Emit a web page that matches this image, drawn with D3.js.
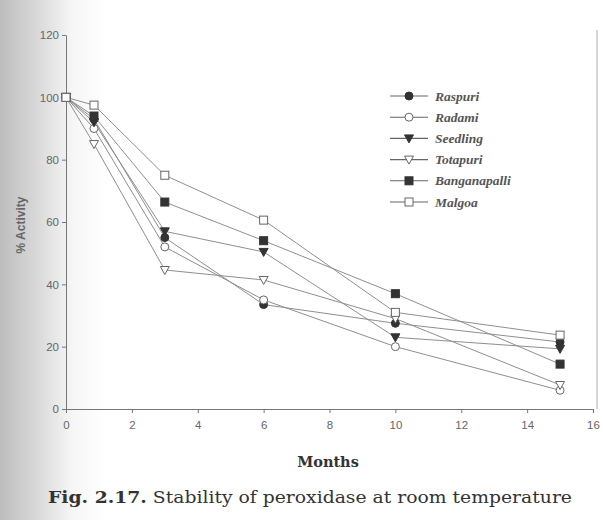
<!DOCTYPE html>
<html><head><meta charset="utf-8">
<script src="https://cdn.jsdelivr.net/npm/d3@7"></script>
<style>body{margin:0;background:#fff}</style>
</head><body>
<svg id="c" width="603" height="520"></svg>
<script>
const months = [0, 0.85, 3, 6, 10, 15];
const seriesNames = ["Raspuri","Radami","Seedling","Totapuri","Banganapalli","Malgoa"];
const raspuri      = [100, 93, 55, 33.5, 27.5, 21.5];
const radami       = [100, 90, 52, 35, 20, 6];
const seedling     = [100, 92, 57, 50.4, 23, 19.3];
const totapuri     = [100, 85, 44.6, 41.4, 29, 7.7];
const banganapalli = [100, 94, 66.4, 54, 37, 14.4];
const malgoa       = [100, 97.5, 75, 60.6, 31, 23.7];
const xTicks = [0,2,4,6,8,10,12,14,16];
const yTicks = [0,20,40,60,80,100,120];
const markers = ["circleF","circleO","triF","triO","sqF","sqO"];
const allVals = [raspuri, radami, seedling, totapuri, banganapalli, malgoa];

const svg = d3.select("#c");
const defs = svg.append("defs");
const g1 = defs.append("linearGradient").attr("id","lg").attr("x1","0").attr("x2","1").attr("y1","0").attr("y2","0");
g1.append("stop").attr("offset","0").attr("stop-color","#bdbdbd");
g1.append("stop").attr("offset","0.06").attr("stop-color","#d8d8d8");
g1.append("stop").attr("offset","0.12").attr("stop-color","#f6f6f6");
g1.append("stop").attr("offset","0.18").attr("stop-color","#ffffff");
svg.append("rect").attr("width",603).attr("height",520).attr("fill","url(#lg)");

const x = d3.scaleLinear().domain([0,16]).range([66,593]);
const y = d3.scaleLinear().domain([0,120]).range([409,35]);

// right border
svg.append("line").attr("x1",597).attr("x2",597).attr("y1",30).attr("y2",409).attr("stroke","#aaa").attr("stroke-width",1);

const xa = svg.append("g").attr("transform","translate(0,409)")
  .call(d3.axisBottom(x).tickValues(xTicks).tickSize(4).tickSizeOuter(0));
const ya = svg.append("g").attr("transform","translate(66,0)")
  .call(d3.axisLeft(y).tickValues(yTicks).tickSize(4).tickSizeOuter(0));
[xa,ya].forEach(a=>{
  a.select(".domain").attr("stroke","#777");
  a.selectAll(".tick line").attr("stroke","#777");
  a.selectAll("text").attr("fill","#666").attr("font-family","Liberation Sans, Arial, sans-serif").attr("font-size",11.5);
});
xa.selectAll("text").attr("dy","1.1em");

const line = d3.line().x((d,i)=>x(months[i])).y(d=>y(d));
allVals.forEach(vals=>{
  svg.append("path").datum(vals).attr("d",line).attr("fill","none").attr("stroke","#8f8f8f").attr("stroke-width",1);
});

function drawMarker(sel, type, cx, cy){
  const dark="#333", edge="#666";
  if(type==="circleF"||type==="circleO"){
    sel.append("circle").attr("cx",cx).attr("cy",cy).attr("r",4)
      .attr("fill",type==="circleF"?dark:"#fff").attr("stroke",type==="circleF"?dark:edge).attr("stroke-width",1);
  } else if(type==="sqF"||type==="sqO"){
    sel.append("rect").attr("x",cx-4).attr("y",cy-4).attr("width",8).attr("height",8)
      .attr("fill",type==="sqF"?dark:"#fff").attr("stroke",type==="sqF"?dark:edge).attr("stroke-width",1);
  } else {
    sel.append("path").attr("d",`M${cx-4.5},${cy-3.5}L${cx+4.5},${cy-3.5}L${cx},${cy+4.5}Z`)
      .attr("fill",type==="triF"?dark:"#fff").attr("stroke",type==="triF"?dark:edge).attr("stroke-width",1);
  }
}
const mg = svg.append("g");
allVals.forEach((vals,s)=>{
  vals.forEach((v,i)=>drawMarker(mg, markers[s], x(months[i]), y(v)));
});

// legend
const lg = svg.append("g");
seriesNames.forEach((n,i)=>{
  const ly = 96 + i*21.2;
  lg.append("line").attr("x1",390).attr("x2",428).attr("y1",ly).attr("y2",ly).attr("stroke","#666").attr("stroke-width",1.1);
  drawMarker(lg, markers[i], 409, ly);
  lg.append("text").attr("x",435).attr("y",ly+4.5).text(n)
    .attr("font-family","Liberation Serif, Times New Roman, serif").attr("font-style","italic").attr("font-weight","bold")
    .attr("font-size",13.5).attr("fill","#555");
});

// axis titles
svg.append("text").attr("transform","translate(25,225) rotate(-90)").attr("text-anchor","middle")
  .attr("font-family","Liberation Sans, Arial, sans-serif").attr("font-weight","bold").attr("font-size",12).attr("fill","#666")
  .text("% Activity");
svg.append("text").attr("x",328).attr("y",467).attr("text-anchor","middle")
  .attr("font-family","DejaVu Serif, serif").attr("font-weight","bold").attr("font-size",14.5).attr("fill","#333")
  .text("Months");
const cap = svg.append("text").attr("x",48).attr("y",503)
  .attr("font-family","DejaVu Serif, serif").attr("font-size",16.5).attr("fill","#333")
  .attr("textLength",524).attr("lengthAdjust","spacingAndGlyphs");
cap.append("tspan").attr("font-weight","bold").text("Fig. 2.17.");
cap.append("tspan").text(" Stability of peroxidase at room temperature");
</script>
</body></html>
